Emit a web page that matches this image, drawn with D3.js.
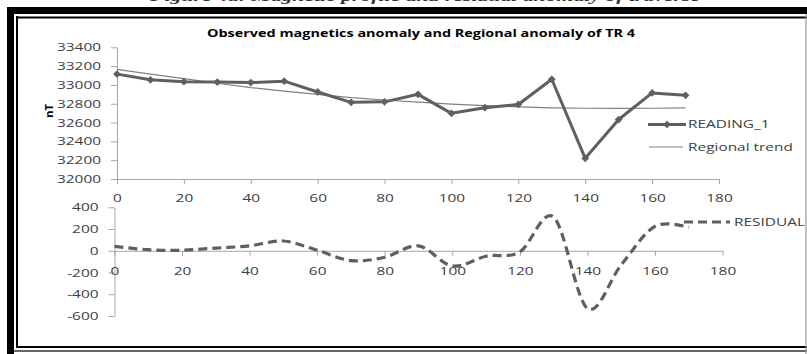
<!DOCTYPE html>
<html><head><meta charset="utf-8">
<script src="https://cdn.jsdelivr.net/npm/d3@7"></script>
<style>html,body{margin:0;padding:0;background:#fff}svg{display:block}</style>
</head><body>
<svg id="chart" width="807" height="354"></svg>
<script>
// ---- data ----
const distances = [0,10,20,30,40,50,60,70,80,90,100,110,120,130,140,150,160,170];
const reading   = [33115,33055,33035,33030,33025,33040,32925,32815,32820,32900,32698,32758,32792,33060,32220,32632,32915,32890];
const regional  = [33165,33115,33068,33018,32972,32935,32900,32866,32840,32818,32796,32780,32767,32757,32752,32750,32752,32757];
const residual  = [40,10,5,25,45,90,5,-90,-60,45,-140,-50,-10,310,-530,-130,225,215];
const topYTicks = [32000,32200,32400,32600,32800,33000,33200,33400];
const xTicks    = [0,20,40,60,80,100,120,140,160,180];
const botYTicks = [-600,-400,-200,0,200,400];
const chartTitle = "Observed magnetics anomaly and Regional anomaly of TR 4";
const captionText = "Figure 4a: Magnetic profile and residual anomaly of traverse";
const yLabel = "nT";
const seriesNames = ["READING_1","Regional trend","RESIDUAL"];

// ---- style ----
const FONT = "'Open Sans', 'Liberation Sans', sans-serif";
const SX = 1.4;            // horizontal stretch of the reference text
const TXT = "#404040";
const AX = "#a6a6a6";
const LINE = "#5f5f5f";
const fmt = d => String(d);  // plain hyphen minus like the reference

const svg = d3.select("#chart");

// caption (cut off at top, as in the reference)
svg.append("text").attr("x", 150).attr("y", 1)
  .attr("textLength", 550).attr("lengthAdjust", "spacingAndGlyphs")
  .style("font-family", "'Liberation Serif', serif").style("font-style", "italic")
  .style("font-weight", "bold").style("font-size", "15px").attr("fill", "#333")
  .text(captionText);

// frame
svg.append("rect").attr("x", 7).attr("y", 7).attr("width", 7).attr("height", 347).attr("fill", "#000");
svg.append("rect").attr("x", 7).attr("y", 7).attr("width", 800).attr("height", 7).attr("fill", "#000");
svg.append("line").attr("x1", 17).attr("x2", 17).attr("y1", 16).attr("y2", 348).attr("stroke", "#000").attr("stroke-width", 2);
svg.append("line").attr("x1", 16).attr("x2", 807).attr("y1", 17.5).attr("y2", 17.5).attr("stroke", "#000").attr("stroke-width", 2);
svg.append("line").attr("x1", 16).attr("x2", 807).attr("y1", 347).attr("y2", 347).attr("stroke", "#000").attr("stroke-width", 2.2);
svg.append("line").attr("x1", 14).attr("x2", 807).attr("y1", 351).attr("y2", 351).attr("stroke", "#333").attr("stroke-width", 1.5);
svg.append("line").attr("x1", 806).attr("x2", 806).attr("y1", 14).attr("y2", 354).attr("stroke", "#999").attr("stroke-width", 1.2);

// ---- scales ----
const xTop = d3.scaleLinear().domain([0,180]).range([117,719]);
const yTop = d3.scaleLinear().domain([32000,33400]).range([179,47.3]);
const xBot = d3.scaleLinear().domain([0,180]).range([114.5,722.5]);
const yBot = d3.scaleLinear().domain([-600,400]).range([316,207.3]);

function styleAxis(g) {
  g.select(".domain").attr("stroke", AX);
  g.selectAll(".tick line").attr("stroke", AX);
  g.selectAll(".tick text").attr("fill", TXT)
    .style("font-family", FONT).style("font-size", "11px")
    .each(function() {
      const t = d3.select(this);
      const x = +t.attr("x") || 0;
      t.attr("x", x / SX).attr("transform", `scale(${SX},1)`);
    });
}

// top chart axes
svg.append("g").attr("transform", `translate(${xTop(0)},0)`)
  .call(d3.axisLeft(yTop).tickValues(topYTicks).tickSize(6).tickSizeOuter(0).tickPadding(10).tickFormat(fmt))
  .call(styleAxis);
svg.append("g").attr("transform", `translate(0,${yTop(32000)})`)
  .call(d3.axisBottom(xTop).tickValues(xTicks).tickSize(5).tickSizeOuter(0).tickPadding(10).tickFormat(fmt))
  .call(styleAxis);

// title
svg.append("text").attr("x", 421).attr("y", 37).attr("text-anchor", "middle")
  .attr("textLength", 428).attr("lengthAdjust", "spacingAndGlyphs")
  .style("font-family", FONT).style("font-weight", "bold").style("font-size", "11px")
  .attr("fill", "#000").text(chartTitle);

// y label
svg.append("text").attr("transform", "translate(53,111) rotate(-90)")
  .attr("text-anchor", "middle")
  .style("font-family", FONT).style("font-weight", "bold").style("font-size", "11px")
  .attr("fill", "#000").text(yLabel);

// regional trend line
svg.append("path").datum(distances.map((d,i)=>[d,regional[i]]))
  .attr("fill", "none").attr("stroke", "#808080").attr("stroke-width", 1.2)
  .attr("d", d3.line().x(d=>xTop(d[0])).y(d=>yTop(d[1])));

// reading line
svg.append("path").datum(distances.map((d,i)=>[d,reading[i]]))
  .attr("fill", "none").attr("stroke", LINE).attr("stroke-width", 3).attr("stroke-linejoin", "round")
  .attr("d", d3.line().x(d=>xTop(d[0])).y(d=>yTop(d[1])));

const diamond = d3.symbol().type(d3.symbolSquare).size(30);
svg.append("g").selectAll("path").data(distances.map((d,i)=>[d,reading[i]])).join("path")
  .attr("d", diamond).attr("fill", LINE)
  .attr("transform", d=>`translate(${xTop(d[0])},${yTop(d[1])}) rotate(45)`);

// top legend
const lg = svg.append("g");
lg.append("line").attr("x1", 648).attr("x2", 686).attr("y1", 124.5).attr("y2", 124.5).attr("stroke", LINE).attr("stroke-width", 3);
lg.append("path").attr("d", diamond).attr("fill", LINE).attr("transform", "translate(667,124.5) rotate(45)");
lg.append("line").attr("x1", 649).attr("x2", 683).attr("y1", 147).attr("y2", 147).attr("stroke", "#808080").attr("stroke-width", 1.2);
[[seriesNames[0],124.5],[seriesNames[1],147]].forEach(([t,y])=>{
  lg.append("text").attr("transform", `translate(688,${y}) scale(${SX},1)`).attr("dy", "0.35em")
    .style("font-family", FONT).style("font-size", "11px").attr("fill", TXT).text(t);
});

// bottom chart axes
svg.append("g").attr("transform", `translate(${xBot(0)},0)`)
  .call(d3.axisLeft(yBot).tickValues(botYTicks).tickSize(6).tickSizeOuter(0).tickPadding(10).tickFormat(fmt))
  .call(styleAxis);
svg.append("g").attr("transform", `translate(0,${yBot(0)})`)
  .call(d3.axisBottom(xBot).tickValues(xTicks).tickSize(5).tickSizeOuter(0).tickPadding(11).tickFormat(fmt))
  .call(styleAxis);

// residual dashed smooth line
svg.append("path").datum(distances.map((d,i)=>[d,residual[i]]))
  .attr("fill", "none").attr("stroke", LINE).attr("stroke-width", 3.2)
  .attr("stroke-dasharray", "9,5")
  .attr("d", d3.line().curve(d3.curveCatmullRom.alpha(0)).x(d=>xBot(d[0])).y(d=>yBot(d[1])));

// bottom legend
svg.append("line").attr("x1", 684).attr("x2", 730).attr("y1", 222).attr("y2", 222)
  .attr("stroke", LINE).attr("stroke-width", 3.2).attr("stroke-dasharray", "9,5");
svg.append("text").attr("transform", `translate(734,222) scale(${SX},1)`).attr("dy", "0.35em")
  .style("font-family", FONT).style("font-size", "11px").attr("fill", TXT).text(seriesNames[2]);
</script>
</body></html>
